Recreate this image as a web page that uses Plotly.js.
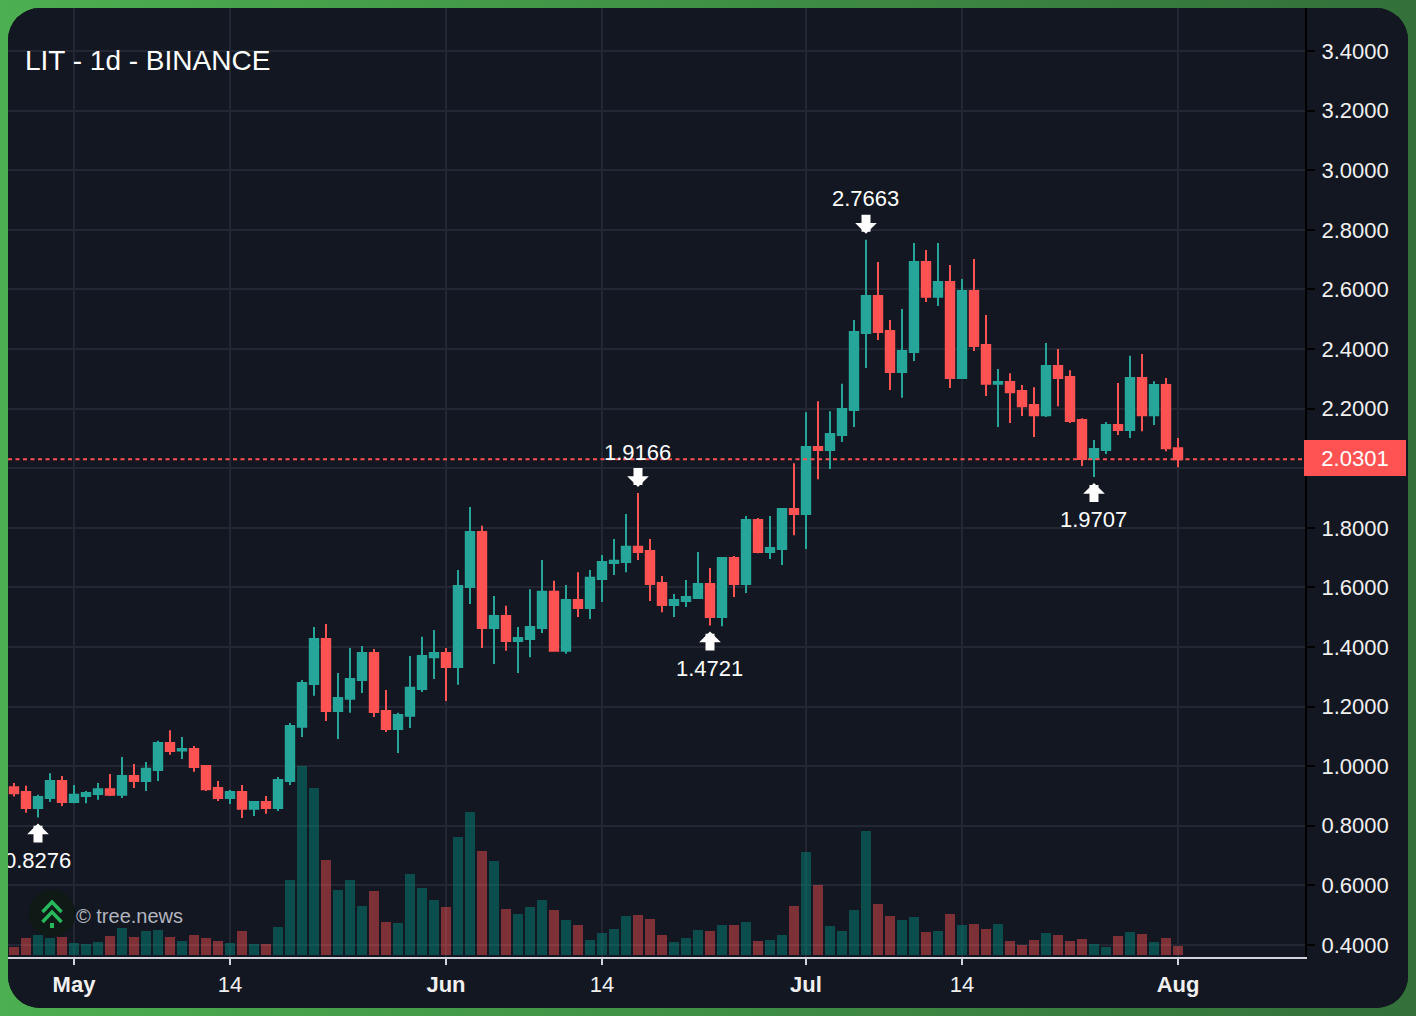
<!DOCTYPE html>
<html>
<head>
<meta charset="utf-8">
<script src="https://cdn.plot.ly/plotly-3.0.1.min.js"></script>
<style>
html,body{margin:0;padding:0;width:1416px;height:1016px;overflow:hidden;background:linear-gradient(90deg,#4caf50 0%,#33703a 100%);}
#card{position:absolute;left:8px;top:8px;width:1400px;height:1000px;border-radius:32px;overflow:hidden;background:#131722;}
</style>
</head>
<body>
<div id="card"></div>
<script>
const dates = ["2025-04-26","2025-04-27","2025-04-28","2025-04-29","2025-04-30",
"2025-05-01","2025-05-02","2025-05-03","2025-05-04","2025-05-05","2025-05-06","2025-05-07","2025-05-08","2025-05-09","2025-05-10","2025-05-11","2025-05-12","2025-05-13","2025-05-14","2025-05-15","2025-05-16","2025-05-17","2025-05-18","2025-05-19","2025-05-20","2025-05-21","2025-05-22","2025-05-23","2025-05-24","2025-05-25","2025-05-26","2025-05-27","2025-05-28","2025-05-29","2025-05-30","2025-05-31",
"2025-06-01","2025-06-02","2025-06-03","2025-06-04","2025-06-05","2025-06-06","2025-06-07","2025-06-08","2025-06-09","2025-06-10","2025-06-11","2025-06-12","2025-06-13","2025-06-14","2025-06-15","2025-06-16","2025-06-17","2025-06-18","2025-06-19","2025-06-20","2025-06-21","2025-06-22","2025-06-23","2025-06-24","2025-06-25","2025-06-26","2025-06-27","2025-06-28","2025-06-29","2025-06-30",
"2025-07-01","2025-07-02","2025-07-03","2025-07-04","2025-07-05","2025-07-06","2025-07-07","2025-07-08","2025-07-09","2025-07-10","2025-07-11","2025-07-12","2025-07-13","2025-07-14","2025-07-15","2025-07-16","2025-07-17","2025-07-18","2025-07-19","2025-07-20","2025-07-21","2025-07-22","2025-07-23","2025-07-24","2025-07-25","2025-07-26","2025-07-27","2025-07-28","2025-07-29","2025-07-30","2025-07-31","2025-08-01"];

const open = [.929,.913,.860,.893,.950,.880,.900,.907,.923,.904,.967,.950,.987,1.078,1.053,1.058,1.001,.927,.893,.913,.857,.880,.860,.950,
1.132,1.276,1.427,1.185,1.226,1.289,1.380,1.185,1.125,1.169,1.259,1.366,1.380,1.333,1.601,1.786,1.464,1.504,1.420,1.427,1.464,1.585,1.387,1.558,1.531,1.628,1.682,1.685,1.736,1.722,1.615,1.541,1.554,1.564,1.611,1.501,1.699,1.611,1.826,1.719,1.729,1.863,
1.846,2.071,2.061,2.111,2.195,2.454,2.578,2.460,2.323,2.390,2.692,2.575,2.625,2.303,2.595,2.413,2.283,2.289,2.259,2.212,2.178,2.343,2.306,2.162,2.031,2.061,2.145,2.128,2.303,2.178,2.279,2.067];
const high = [.944,.934,.904,.976,.967,.937,.917,.944,.974,1.031,1.007,1.014,1.085,1.121,1.098,1.068,1.004,.950,.920,.937,.880,.900,.964,1.145,
1.289,1.467,1.477,1.313,1.397,1.403,1.393,1.256,1.179,1.370,1.434,1.457,1.397,1.658,1.870,1.807,1.571,1.538,1.467,1.594,1.692,1.622,1.608,1.651,1.658,1.709,1.762,1.846,1.9166,1.762,1.638,1.578,1.625,1.719,1.665,1.699,1.705,1.840,1.833,1.840,1.866,2.017,
2.188,2.225,2.191,2.283,2.497,2.7663,2.692,2.497,2.534,2.756,2.732,2.756,2.682,2.635,2.702,2.514,2.333,2.319,2.279,2.272,2.420,2.400,2.329,2.168,2.095,2.155,2.286,2.377,2.383,2.292,2.303,2.101];
const low = [.898,.844,.8276,.880,.866,.876,.876,.887,.900,.893,.927,.917,.950,1.038,1.024,.981,.917,.883,.873,.826,.833,.840,.850,.937,
1.098,1.236,1.152,1.091,1.179,1.246,1.165,1.115,1.044,1.128,1.249,1.293,1.219,1.273,1.544,1.397,1.343,1.387,1.313,1.366,1.447,1.387,1.377,1.501,1.494,1.551,1.642,1.651,1.692,1.554,1.517,1.501,1.534,1.564,1.4721,1.470,1.568,1.581,1.715,1.695,1.675,1.775,
1.729,1.963,1.997,2.088,2.138,2.336,2.430,2.262,2.236,2.360,2.558,2.544,2.269,2.299,2.393,2.242,2.138,2.152,2.175,2.105,2.172,2.208,2.152,2.007,1.9707,2.048,2.111,2.101,2.124,2.145,2.057,2.003];
const close = [.909,.860,.897,.950,.880,.904,.910,.923,.904,.967,.950,.991,1.078,1.051,1.058,.997,.923,.893,.913,.857,.880,.860,.954,1.135,
1.279,1.427,1.185,1.229,1.293,1.380,1.182,1.125,1.172,1.263,1.370,1.380,1.333,1.605,1.786,1.464,1.504,1.420,1.430,1.467,1.585,1.387,1.558,1.531,1.632,1.685,1.689,1.736,1.719,1.611,1.541,1.558,1.568,1.611,1.501,1.699,1.611,1.826,1.719,1.732,1.863,1.846,
2.071,2.061,2.115,2.199,2.457,2.578,2.457,2.323,2.393,2.692,2.575,2.625,2.303,2.595,2.410,2.283,2.289,2.255,2.208,2.178,2.343,2.303,2.158,2.031,2.064,2.145,2.128,2.303,2.178,2.279,2.067,2.0301];
const volume = [8,17,20,17,18,12,11,13,19,27,18,24,25,18,14,20,17,14,12,24,11,11,28,75,
189,167,95,65,75,49,64,33,32,81,67,55,48,118,143,104,94,46,41,48,55,45,35,30,15,22,26,39,40,36,20,13,17,25,24,30,30,33,14,15,20,49,
103,70,29,24,45,124,51,39,35,38,23,24,41,30,31,26,31,14,10,15,22,20,14,16,11,8,19,23,21,13,17,9];

const priceTicks = [0.4,0.6,0.8,1.0,1.2,1.4,1.6,1.8,2.0,2.2,2.4,2.6,2.8,3.0,3.2,3.4];
const timeTicks = ["2025-05-01","2025-05-14","2025-06-01","2025-06-14","2025-07-01","2025-07-14","2025-08-01"];
const timeLabels = ["<b>May</b>","14","<b>Jun</b>","14","<b>Jul</b>","14","<b>Aug</b>"];
const markDates = ["2025-04-28","2025-06-17","2025-06-23","2025-07-06","2025-07-25"];
const markPrices = [0.8276,1.9166,1.4721,2.7663,1.9707];
const markIsHigh = [false,true,false,true,false];
const lastPrice = 2.0301;

const GREEN="#26a69a", RED="#ff5252", FONT="Liberation Sans, Arial, sans-serif";
const W=1297, H=949, OX=8, OY=8;
const px=x=>(x-OX)/W, py=y=>1-(y-OY)/H;

const volTrace={type:"bar",x:dates,y:volume,xaxis:"x",yaxis:"y",width:0.83*864e5,hoverinfo:"skip",
  marker:{line:{width:0},color:close.map((c,i)=>c>=open[i]?"rgba(0,150,136,0.42)":"rgba(255,82,82,0.45)")}};
const candleTrace={type:"candlestick",x:dates,open,high,low,close,xaxis:"x",yaxis:"y2",whiskerwidth:0,width:0.7*864e5,hoverinfo:"skip",
  increasing:{line:{color:GREEN,width:2},fillcolor:GREEN},
  decreasing:{line:{color:RED,width:2},fillcolor:RED}};

const ann=[];
ann.push({xref:"paper",yref:"paper",x:px(25),xshift:-2,y:py(61),xanchor:"left",yanchor:"middle",showarrow:false,text:"LIT - 1d - BINANCE",font:{family:FONT,size:28,color:"#ffffff"}});
ann.push({xref:"paper",yref:"paper",x:px(76),xshift:-2,y:py(915.5),xanchor:"left",yanchor:"middle",showarrow:false,text:"© tree.news",font:{family:FONT,size:20,color:"#b2b5be"}});
markDates.forEach((d,i)=>{
  const up=markIsHigh[i];
  ann.push({xref:"x",yref:"y2",x:d,y:markPrices[i],text:" ",showarrow:true,axref:"pixel",ayref:"pixel",ax:0,ay:up?-26:26,
    standoff:6,arrowcolor:"#ffffff",arrowwidth:9,arrowhead:1,arrowsize:0.4,borderpad:0,font:{size:1}});
  ann.push({xref:"x",yref:"y2",x:d,y:markPrices[i],text:markPrices[i].toFixed(4),showarrow:false,yanchor:"middle",xanchor:"center",
    xshift:-1,yshift:up?41:-43,font:{family:FONT,size:22,color:"#ffffff"}});
});
ann.push({xref:"paper",yref:"y2",x:1,y:lastPrice,xanchor:"left",yanchor:"middle",xshift:-1,yshift:1,showarrow:false,text:lastPrice.toFixed(4),
  width:102,height:36,bgcolor:RED,borderpad:0,borderwidth:0,font:{family:FONT,size:22,color:"#ffffff"}});

const shapes=[
 {type:"line",xref:"paper",yref:"y2",x0:0,x1:1,y0:lastPrice,y1:lastPrice,line:{color:RED,width:2,dash:"4px 3.5px"},layer:"above"},
 {type:"circle",xref:"paper",yref:"paper",x0:px(28.5),x1:px(75.5),y0:py(937),y1:py(890),fillcolor:"#0f1a16",line:{width:0},layer:"above"},
 {type:"path",xref:"paper",yref:"paper",path:`M${px(42.5)},${py(912)}L${px(52)},${py(902)}L${px(61.5)},${py(912)}`,line:{color:"#27b85c",width:3.5},layer:"above"},
 {type:"path",xref:"paper",yref:"paper",path:`M${px(42.5)},${py(922)}L${px(52)},${py(912)}L${px(61.5)},${py(922)}`,line:{color:"#27b85c",width:3.5},layer:"above"},
 {type:"rect",xref:"paper",yref:"paper",x0:px(50),x1:px(54),y0:py(928),y1:py(923),fillcolor:"#27b85c",line:{width:0},layer:"above"}
];

const layout={
  width:1400,height:1000,margin:{l:0,r:103,t:0,b:51,pad:0},
  paper_bgcolor:"#131722",plot_bgcolor:"#131722",showlegend:false,bargap:0,boxgap:0,
  font:{family:FONT,size:22,color:"#ffffff"},
  xaxis:{type:"date",range:["2025-04-25 12:00","2025-08-11 14:00"],rangeslider:{visible:false},
    tickmode:"array",tickvals:timeTicks,ticktext:timeLabels,tickfont:{family:FONT,size:22,color:"#f0f0f0"},
    showgrid:true,gridcolor:"#232733",gridwidth:2,zeroline:false,ticklabelstandoff:1,
    showline:true,linecolor:"#d1d4dc",linewidth:2,ticks:"outside",ticklen:6,tickwidth:2,tickcolor:"#d1d4dc",layer:"below traces"},
  yaxis:{range:[-2,947],visible:false,showgrid:false,zeroline:false,fixedrange:true},
  yaxis2:{overlaying:"y",side:"right",anchor:"x",range:[0.3597,3.5443],tickmode:"array",tickvals:priceTicks,
    ticktext:priceTicks.map(v=>v.toFixed(4)),tickfont:{family:FONT,size:22,color:"#f0f0f0"},
    showgrid:true,gridcolor:"#232733",gridwidth:2,zeroline:false,ticklabelstandoff:2,
    showline:true,linecolor:"#000000",linewidth:2,ticks:"outside",ticklen:8,tickwidth:2,tickcolor:"#000000"},
  annotations:ann,shapes:shapes
};
Plotly.newPlot("card",[volTrace,candleTrace],layout,{displayModeBar:false,staticPlot:true});
</script>
</body>
</html>
